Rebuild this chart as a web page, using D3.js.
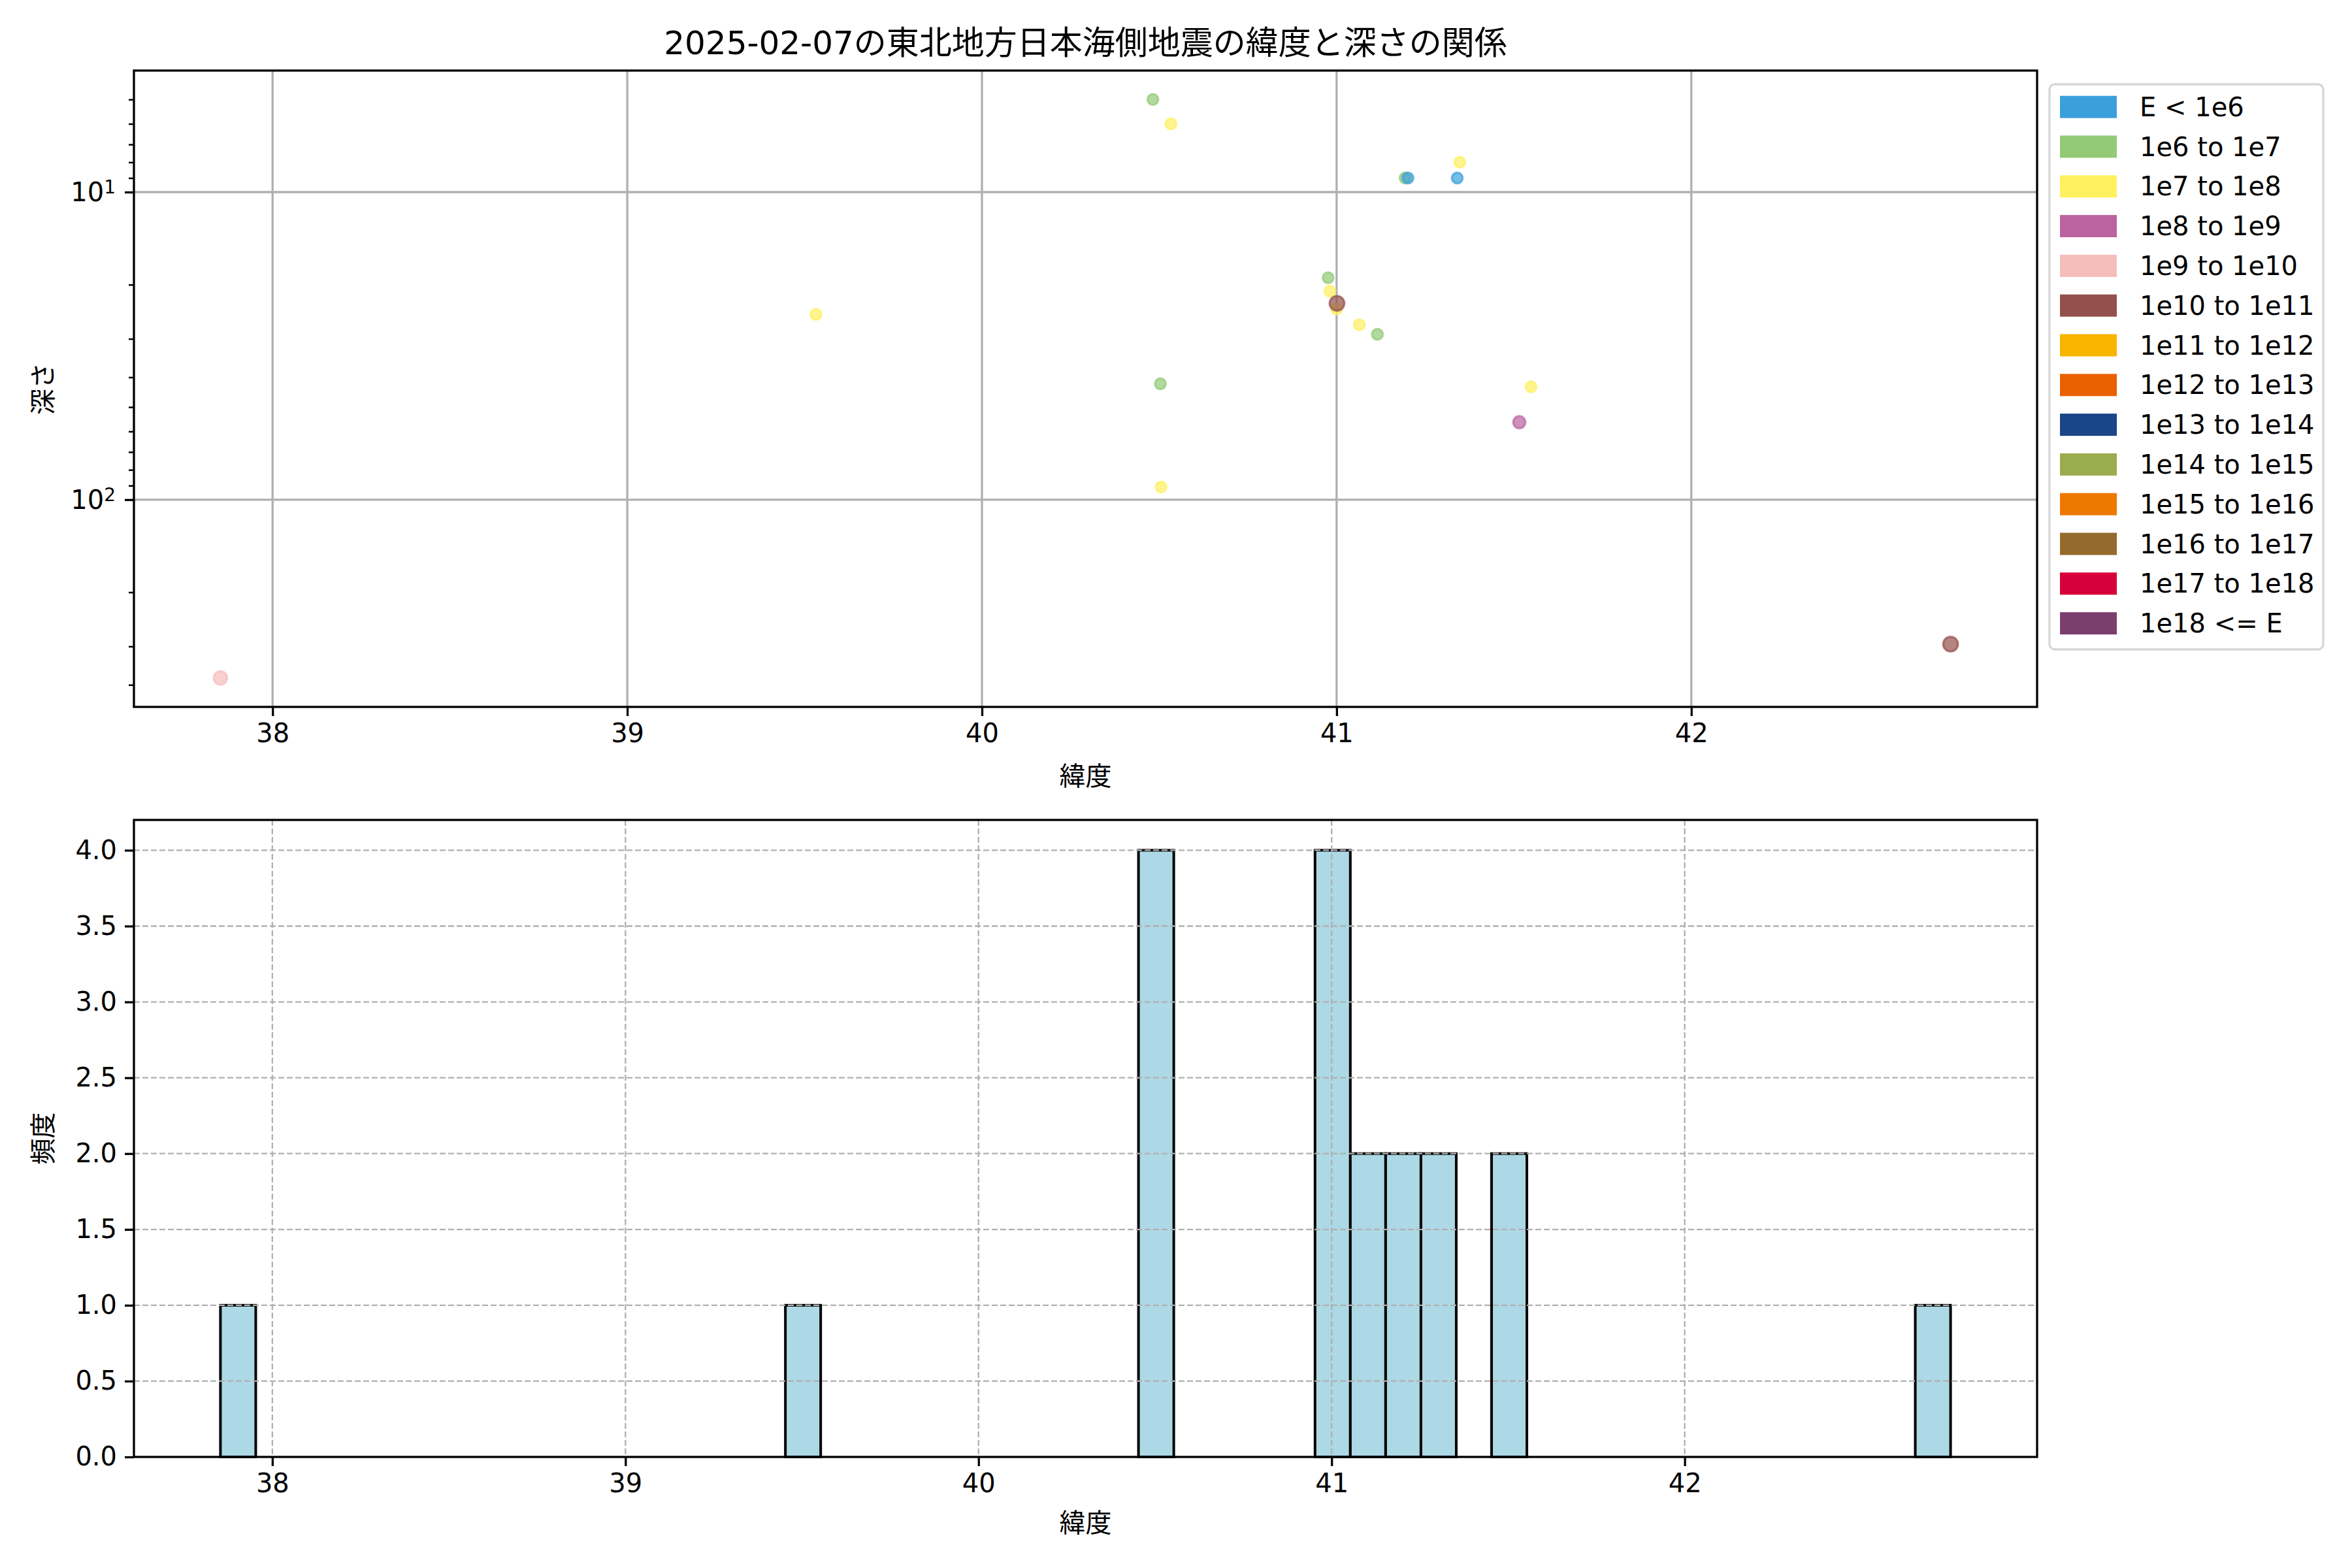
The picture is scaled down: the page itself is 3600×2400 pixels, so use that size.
<!DOCTYPE html>
<html>
<head>
<meta charset="utf-8">
<script src="https://cdn.jsdelivr.net/npm/d3@7"></script>
<style>
  body { margin: 0; background: #fff; }
  text { font-family: "DejaVu Sans", "Noto Sans CJK JP", sans-serif; fill: #000; }
</style>
</head>
<body>
<script>
// 震源データ（描画順）
const latitudes = [37.853, 39.532, 40.482, 40.533, 40.503, 40.505, 40.976, 40.981, 41.000, 41.001,
  41.064, 41.115, 41.193, 41.201, 41.340, 41.347, 41.515, 41.548, 42.731];
const depths = [380, 25, 5, 6, 42, 91, 19, 21, 24, 23,
  27, 29, 9, 9, 9, 8, 56, 43, 295];
// エネルギー区分の番号
const energyClass = [4, 2, 1, 2, 1, 2, 1, 2, 2, 5,
  2, 1, 1, 0, 0, 2, 3, 2, 5];

// 凡例
const classLabels = ["E < 1e6", "1e6 to 1e7", "1e7 to 1e8", "1e8 to 1e9", "1e9 to 1e10",
  "1e10 to 1e11", "1e11 to 1e12", "1e12 to 1e13", "1e13 to 1e14", "1e14 to 1e15",
  "1e15 to 1e16", "1e16 to 1e17", "1e17 to 1e18", "1e18 <= E"];
const classColors = ["#3aa0dc", "#92ca76", "#fff060", "#bb63a0", "#f5beba",
  "#94504c", "#f8b500", "#eb6101", "#1b4589", "#9aac4e",
  "#ee7800", "#946b2d", "#d7003a", "#7b3f6e"];

const histTicks = [0, 0.5, 1, 1.5, 2, 2.5, 3, 3.5, 4];
const latTicks = [38, 39, 40, 41, 42];
const depthMajor = [10, 100];

const titleText = "2025-02-07の東北地方日本海側地震の緯度と深さの関係";

const data = latitudes.map((lat, i) => ({ lat: lat, depth: depths[i], cls: energyClass[i] }));

// 範囲
const W = 3600, H = 2400,
  left = 205, right = 3118,
  top1 = 108, bottom1 = 1082,
  top2 = 1255, bottom2 = 2230,
  fs = 40, spineW = 3.3;

const svg = d3.select("body").append("svg")
  .attr("width", W).attr("height", H);
svg.append("rect").attr("width", W).attr("height", H).attr("fill", "#fff");

// matplotlib 風の余白 5%
let pad = (lo, hi) => { const m = (hi - lo) * 0.05; return [lo - m, hi + m]; };

// ---------- 上段：散布図 ----------
const x1 = d3.scaleLinear()
  .domain(pad(d3.min(latitudes), d3.max(latitudes)))
  .range([left, right]);
const logDom = pad(Math.log10(d3.min(depths)), Math.log10(d3.max(depths)));
const y1 = d3.scaleLog()
  .domain([Math.pow(10, logDom[0]), Math.pow(10, logDom[1])])
  .range([top1, bottom1]);

const g1 = svg.append("g");

// グリッド
g1.append("g").selectAll("line").data(latTicks).join("line")
  .attr("x1", d => x1(d)).attr("x2", d => x1(d))
  .attr("y1", top1).attr("y2", bottom1)
  .attr("stroke", "#b0b0b0").attr("stroke-width", 3.3);
g1.append("g").selectAll("line").data(depthMajor).join("line")
  .attr("x1", left).attr("x2", right)
  .attr("y1", d => y1(d)).attr("y2", d => y1(d))
  .attr("stroke", "#b0b0b0").attr("stroke-width", 3.3);

// 点
const rScale = d3.scaleLinear().domain([2, 5]).range([8.3, 11.3]).clamp(true);
g1.append("g").selectAll("circle").data(data).join("circle")
  .attr("cx", d => x1(d.lat))
  .attr("cy", d => y1(d.depth))
  .attr("r", d => rScale(d.cls))
  .attr("fill", d => classColors[d.cls])
  .attr("fill-opacity", 0.7)
  .attr("stroke", d => classColors[d.cls])
  .attr("stroke-opacity", 0.7)
  .attr("stroke-width", 3.2);

// 軸
const xAxis1 = g1.append("g")
  .attr("transform", `translate(0,${bottom1})`)
  .call(d3.axisBottom(x1).tickValues(latTicks).tickFormat(d3.format("d")).tickSize(14).tickPadding(12));

const minorTicks = y1.ticks().filter(d => depthMajor.indexOf(d) < 0);
const yMinor1 = g1.append("g")
  .attr("transform", `translate(${left},0)`)
  .call(d3.axisLeft(y1).tickValues(minorTicks).tickFormat("").tickSize(8));
const yAxis1 = g1.append("g")
  .attr("transform", `translate(${left},0)`)
  .call(d3.axisLeft(y1).tickValues(depthMajor).tickFormat("").tickSize(14));
yAxis1.selectAll(".tick").append("text")
  .attr("x", -28).attr("dy", "0.35em")
  .attr("text-anchor", "end")
  .attr("font-size", fs)
  .each(function (d) {
    const t = d3.select(this);
    t.append("tspan").text("10");
    t.append("tspan").attr("dy", "-0.45em").attr("font-size", fs * 0.7).text(Math.round(Math.log10(d)));
  });

g1.append("rect")
  .attr("x", left).attr("y", top1)
  .attr("width", right - left).attr("height", bottom1 - top1)
  .attr("fill", "none").attr("stroke", "#000").attr("stroke-width", spineW);

svg.append("text")
  .attr("x", (left + right) / 2).attr("y", 83)
  .attr("text-anchor", "middle").attr("font-size", 50)
  .text(titleText);
svg.append("text")
  .attr("x", (left + right) / 2).attr("y", 1202)
  .attr("text-anchor", "middle").attr("font-size", fs)
  .text("緯度");
svg.append("text")
  .attr("transform", `translate(80,${(top1 + bottom1) / 2}) rotate(-90)`)
  .attr("text-anchor", "middle").attr("font-size", fs)
  .text("深さ");

// 凡例
const lg = svg.append("g");
lg.append("rect")
  .attr("x", 3137).attr("y", 129).attr("width", 419).attr("height", 865)
  .attr("rx", 8).attr("fill", "#fff").attr("stroke", "#d6d6d6").attr("stroke-width", 3.3);
const item = lg.selectAll("g.item").data(classLabels).join("g")
  .attr("class", "item")
  .attr("transform", (d, i) => `translate(3153,${163.7 + i * 60.8})`);
item.append("rect")
  .attr("x", 0).attr("y", -17).attr("width", 87).attr("height", 34)
  .attr("fill", (d, i) => classColors[i]);
item.append("text")
  .attr("x", 122).attr("dy", "0.35em")
  .attr("font-size", 40)
  .text(d => d);

// ---------- 下段：ヒストグラム ----------
const latMin = d3.min(latitudes), latMax = d3.max(latitudes);
const edges = d3.range(latMin, latMax + 0.1, 0.1);
const bins = d3.bin()
  .domain([edges[0], edges[edges.length - 1]])
  .thresholds(edges.slice(1, -1))(latitudes);

const x2 = d3.scaleLinear()
  .domain(pad(edges[0], edges[edges.length - 1]))
  .range([left, right]);
const y2 = d3.scaleLinear()
  .domain([0, d3.max(bins, b => b.length) * 1.05])
  .range([bottom2, top2]);

const g2 = svg.append("g");

g2.append("g").selectAll("rect").data(bins).join("rect")
  .attr("x", d => x2(d.x0))
  .attr("y", d => y2(d.length))
  .attr("width", d => x2(d.x1) - x2(d.x0))
  .attr("height", d => y2(0) - y2(d.length))
  .attr("fill", "#add8e6")
  .attr("stroke", "#000")
  .attr("stroke-width", 4);

// 破線グリッド（棒の上に描く）
g2.append("g").selectAll("line").data(latTicks).join("line")
  .attr("x1", d => x2(d)).attr("x2", d => x2(d))
  .attr("y1", top2).attr("y2", bottom2)
  .attr("stroke", "#b0b0b0").attr("stroke-width", 2.3)
  .attr("stroke-dasharray", "9,4");
g2.append("g").selectAll("line").data(histTicks).join("line")
  .attr("x1", left).attr("x2", right)
  .attr("y1", d => y2(d)).attr("y2", d => y2(d))
  .attr("stroke", "#b0b0b0").attr("stroke-width", 2.3)
  .attr("stroke-dasharray", "9,4");

const xAxis2 = g2.append("g")
  .attr("transform", `translate(0,${bottom2})`)
  .call(d3.axisBottom(x2).tickValues(latTicks).tickFormat(d3.format("d")).tickSize(14).tickPadding(12));
const yAxis2 = g2.append("g")
  .attr("transform", `translate(${left},0)`)
  .call(d3.axisLeft(y2).tickValues(histTicks).tickFormat(d3.format(".1f")).tickSize(14).tickPadding(12));

g2.append("rect")
  .attr("x", left).attr("y", top2)
  .attr("width", right - left).attr("height", bottom2 - top2)
  .attr("fill", "none").attr("stroke", "#000").attr("stroke-width", spineW);

svg.append("text")
  .attr("x", (left + right) / 2).attr("y", 2345)
  .attr("text-anchor", "middle").attr("font-size", fs)
  .text("緯度");
svg.append("text")
  .attr("transform", `translate(80,${(top2 + bottom2) / 2}) rotate(-90)`)
  .attr("text-anchor", "middle").attr("font-size", fs)
  .text("頻度");

// 軸の体裁
svg.selectAll(".domain").remove();
svg.selectAll(".tick line").attr("stroke", "#000").attr("stroke-width", spineW);
yMinor1.selectAll(".tick line").attr("stroke-width", 2.5);
svg.selectAll(".tick text").attr("font-size", fs)
  .style("font-family", "'DejaVu Sans', 'Noto Sans CJK JP', sans-serif");
</script>
</body>
</html>
